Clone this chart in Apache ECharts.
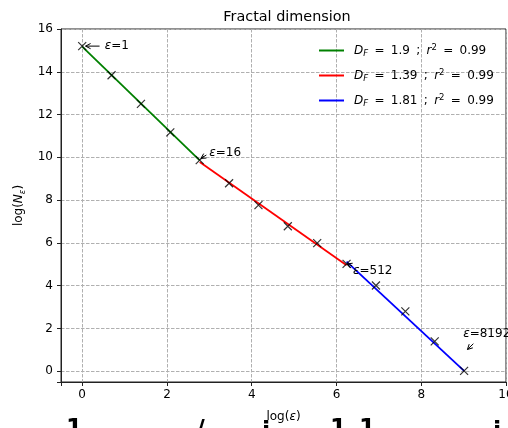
<!DOCTYPE html>
<html><head><meta charset="utf-8">
<script src="https://cdn.jsdelivr.net/npm/echarts@6/dist/echarts.min.js"></script>
<style>html,body{margin:0;padding:0;background:#fff}#c{width:508px;height:428px}</style>
</head><body><div id="c"></div>
<script>
// ---- data ----
const logEps = [0, 0.693, 1.386, 2.079, 2.773, 3.466, 4.159, 4.852, 5.545, 6.238, 6.931, 7.625, 8.318, 9.011];
const logN   = [15.2, 13.84, 12.5, 11.17, 9.87, 8.79, 7.77, 6.78, 5.99, 5.02, 4.01, 2.80, 1.40, 0.02];
const fitDF  = ['1.9', '1.39', '1.81'];
const fitR2  = ['0.99', '0.99', '0.99'];
const fitX   = [[0, 2.773], [2.773, 6.238], [6.238, 9.011]];
const fitY   = [[15.18, 9.86], [9.78, 4.96], [5.13, 0.02]];
const epsLabels = ['1', '16', '512', '8192'];
const xTicks = [0, 2, 4, 6, 8, 10];
const yTicks = [0, 2, 4, 6, 8, 10, 12, 14, 16];

// ---- styles / layout ----
const FONT = 'DejaVu Sans';
const fitColors = ['#008000', '#ff0000', '#0000ff'];
const annLayout = [
  {tail: [0.41, 15.2],  head: [0.08, 15.2],  text: [0.53, 15.2]},
  {tail: [2.93, 10.11], head: [2.80, 9.95],  text: [3.00, 10.19]},
  {tail: [6.37, 4.93],  head: [6.25, 5.02],  text: [6.39, 4.70]},
  {tail: [9.23, 1.29],  head: [9.09, 1.02],  text: [8.99, 1.74]}
];

const chart = echarts.init(document.getElementById('c'), null, {renderer: 'canvas'});

const series = [];
fitX.forEach((xs, i) => {
  series.push({
    name: 'fit' + i,
    type: 'line',
    data: xs.map((x, j) => [x, fitY[i][j]]),
    showSymbol: false,
    symbol: 'none',
    lineStyle: {color: fitColors[i], width: 1.8},
    itemStyle: {color: fitColors[i]},
    silent: true,
    animation: false,
    z: 2
  });
});
series.push({
  name: 'points',
  type: 'scatter',
  data: logEps.map((x, i) => [x, logN[i]]),
  symbol: 'path://M0,0L10,10M10,0L0,10',
  symbolSize: 8,
  itemStyle: {color: 'none', borderColor: '#000', borderWidth: 1.2},
  animation: false,
  z: 3
});
series.push({
  name: 'ann',
  type: 'custom',
  data: annLayout.map(a => [a.head[0], a.head[1]]),
  encode: {x: 0, y: 1},
  clip: false,
  animation: false,
  z: 4,
  renderItem: function (params, api) {
    const a = annLayout[params.dataIndex];
    const t = api.coord(a.tail), h = api.coord(a.head), p = api.coord(a.text);
    const dx = h[0] - t[0], dy = h[1] - t[1], L = Math.hypot(dx, dy) || 1;
    const ux = dx / L, uy = dy / L, hl = 5, hw = 2.6;
    const b1 = [h[0] - ux * hl - uy * hw, h[1] - uy * hl + ux * hw];
    const b2 = [h[0] - ux * hl + uy * hw, h[1] - uy * hl - ux * hw];
    return {
      type: 'group',
      children: [
        {type: 'line', shape: {x1: t[0], y1: t[1], x2: h[0], y2: h[1]}, style: {stroke: '#000', lineWidth: 1}},
        {type: 'polyline', shape: {points: [b1, h, b2]}, style: {stroke: '#000', lineWidth: 1, fill: null}},
        {type: 'text', x: p[0], y: p[1], style: {
          text: '{i|ε}=' + epsLabels[params.dataIndex],
          font: '12px ' + FONT, fill: '#000',
          textAlign: 'left', textVerticalAlign: 'middle',
          rich: {i: {fontStyle: 'italic', fontFamily: FONT, fontSize: 12, fill: '#000', color: '#000'}}
        }}
      ]
    };
  }
});

const legendRich = {
  g: {width: 5},
  s: {width: 6.3},
  t: {fontFamily: FONT, fontSize: 12, color: '#000'},
  i: {fontFamily: FONT, fontSize: 12, color: '#000', fontStyle: 'italic'},
  sub: {fontFamily: FONT, fontSize: 8.5, color: '#000', fontStyle: 'italic', padding: [6, 0, 0, 0]},
  sup: {fontFamily: FONT, fontSize: 8.5, color: '#000', padding: [0, 0, 6, 0]}
};

const glyphStyle = t => ({text: t, font: 'bold 24px ' + FONT, fill: '#000', textAlign: 'left', textVerticalAlign: 'top'});

const option = {
  animation: false,
  backgroundColor: '#fff',
  title: {
    text: 'Fractal dimension',
    left: 282, top: 5, textAlign: 'center',
    textStyle: {fontFamily: FONT, fontSize: 14.4, fontWeight: 'normal', color: '#000'}
  },
  grid: {left: 61, right: 2, top: 29, bottom: 46, outerBoundsMode: 'none', containLabel: false,
    show: true, borderColor: '#222', borderWidth: 1, backgroundColor: 'transparent'},
  legend: {
    data: ['fit0', 'fit1', 'fit2'],
    orient: 'vertical', left: 314, top: 38,
    icon: 'rect', itemWidth: 25, itemHeight: 2, itemGap: 10,
    textStyle: {fontFamily: FONT, fontSize: 12, color: '#000', rich: legendRich},
    formatter: function (name) {
      const i = +name.replace('fit', '');
      return '{g|}{i|D}{sub|F}{s|}{t|=}{s|}{t|' + fitDF[i] + '}{s|}{t|;}{s|}{i|r}{sup|2}{s|}{t|=}{s|}{t|' + fitR2[i] + '}';
    },
    selectedMode: false
  },
  xAxis: {
    type: 'value', min: -0.5, max: 10, minInterval: 2, maxInterval: 2,
    name: '{t|log(}{i|ε}{t|)}', nameLocation: 'middle', nameGap: 29,
    nameTextStyle: {fontFamily: FONT, fontSize: 12, color: '#000', rich: {
      t: {fontFamily: FONT, fontSize: 12, color: '#000'},
      i: {fontFamily: FONT, fontSize: 12, color: '#000', fontStyle: 'italic'}
    }},
    axisLine: {show: true, onZero: false, lineStyle: {color: '#222', width: 1}},
    axisTick: {show: true, inside: false, length: 4, lineStyle: {color: '#222'}},
    axisLabel: {fontFamily: FONT, fontSize: 12, color: '#000', margin: 7,
      formatter: v => xTicks.includes(v) ? String(v) : ''},
    splitLine: {show: true, lineStyle: {color: '#b0b0b0', width: 1, type: [3.5, 1.5]}}
  },
  yAxis: {
    type: 'value', min: -0.5, max: 16, minInterval: 2, maxInterval: 2,
    name: '{t|log(}{i|N}{sub|ε}{t|)}', nameLocation: 'middle', nameGap: 27, nameRotate: 90,
    nameTextStyle: {fontFamily: FONT, fontSize: 12, color: '#000', rich: {
      t: {fontFamily: FONT, fontSize: 12, color: '#000'},
      i: {fontFamily: FONT, fontSize: 12, color: '#000', fontStyle: 'italic'},
      sub: {fontFamily: FONT, fontSize: 8.5, color: '#000', fontStyle: 'italic', padding: [6, 0, 0, 0]}
    }},
    axisLine: {show: true, onZero: false, lineStyle: {color: '#222', width: 1}},
    axisTick: {show: true, inside: false, length: 4, lineStyle: {color: '#222'}},
    axisLabel: {fontFamily: FONT, fontSize: 12, color: '#000', margin: 8,
      formatter: v => yTicks.includes(v) ? String(v) : ''},
    splitLine: {show: true, lineStyle: {color: '#b0b0b0', width: 1, type: [3.5, 1.5]}}
  },
  graphic: [
    {type: 'text', x: 66, y: 418, style: glyphStyle('1')},
    {type: 'text', x: 196, y: 419, style: glyphStyle('/')},
    {type: 'text', x: 262, y: 421, style: glyphStyle('i')},
    {type: 'text', x: 330, y: 418, style: glyphStyle('1')},
    {type: 'text', x: 359, y: 418, style: glyphStyle('1')},
    {type: 'text', x: 493, y: 421, style: glyphStyle('i')}
  ],
  series: series
};
chart.setOption(option);
</script>
</body></html>
